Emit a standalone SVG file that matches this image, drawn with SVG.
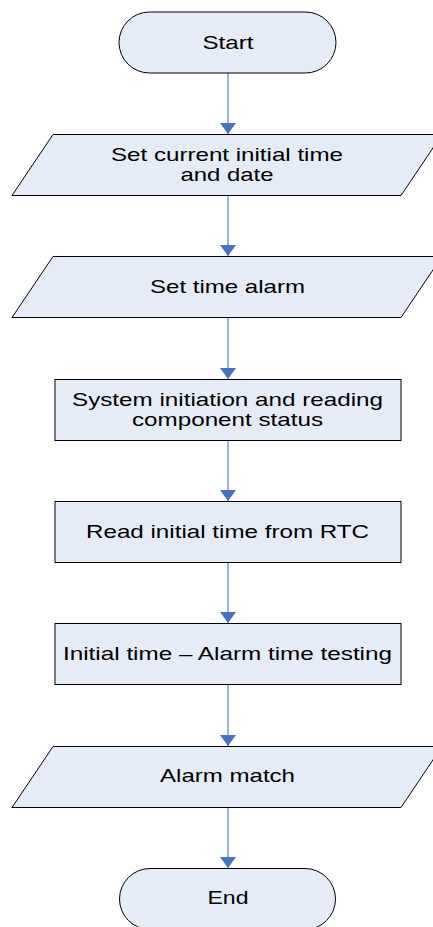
<svg xmlns="http://www.w3.org/2000/svg" width="433" height="927" viewBox="0 0 433 927">
<style>
.n{fill:#E6ECF7;stroke:#000;stroke-width:1}
.t{font-family:"Liberation Sans",Arial,sans-serif;font-size:18.5px;fill:#000;text-anchor:middle}
.c{stroke:#7A9AD6;stroke-width:1.5;fill:none}
</style>
<defs>
<marker id="ah" markerUnits="userSpaceOnUse" markerWidth="11" markerHeight="16" refX="11" refY="8" orient="auto" viewBox="0 0 11 16">
<path d="M0,0 L11,8 L0,16 Z" fill="#4472C4"/>
</marker>
</defs>
<rect width="433" height="927" fill="#fff"/>
<g id="connectors">
<line class="c" x1="228" y1="73" x2="228" y2="134" marker-end="url(#ah)"/>
<line class="c" x1="228" y1="195" x2="228" y2="256" marker-end="url(#ah)"/>
<line class="c" x1="228" y1="318" x2="228" y2="379" marker-end="url(#ah)"/>
<line class="c" x1="228" y1="440" x2="228" y2="501" marker-end="url(#ah)"/>
<line class="c" x1="228" y1="562" x2="228" y2="623" marker-end="url(#ah)"/>
<line class="c" x1="228" y1="685" x2="228" y2="746" marker-end="url(#ah)"/>
<line class="c" x1="228" y1="807" x2="228" y2="868" marker-end="url(#ah)"/>
</g>
<g id="start">
<rect class="n" x="119" y="12" width="217" height="61" rx="30.5" ry="30.5"/>
<text class="t" x="228" y="48.5" textLength="51" lengthAdjust="spacingAndGlyphs">Start</text>
</g>
<g id="set-current">
<polygon class="n" points="53,134.5 442,134.5 401,195.5 12,195.5"/>
<text class="t" x="227" y="161" textLength="232" lengthAdjust="spacingAndGlyphs">Set current initial time</text>
<text class="t" x="227" y="181" textLength="93" lengthAdjust="spacingAndGlyphs">and date</text>
</g>
<g id="set-alarm">
<polygon class="n" points="53,256.5 442,256.5 401,317.5 12,317.5"/>
<text class="t" x="227.5" y="293" textLength="155" lengthAdjust="spacingAndGlyphs">Set time alarm</text>
</g>
<g id="system-init">
<rect class="n" x="55" y="379.5" width="346" height="61"/>
<text class="t" x="227.5" y="405.5" textLength="311" lengthAdjust="spacingAndGlyphs">System initiation and reading</text>
<text class="t" x="227.5" y="425.5" textLength="191" lengthAdjust="spacingAndGlyphs">component status</text>
</g>
<g id="read-rtc">
<rect class="n" x="55" y="501.5" width="346" height="61"/>
<text class="t" x="227.5" y="538" textLength="283" lengthAdjust="spacingAndGlyphs">Read initial time from RTC</text>
</g>
<g id="testing">
<rect class="n" x="55" y="623.5" width="346" height="61"/>
<text class="t" x="227.5" y="659.5" textLength="329" lengthAdjust="spacingAndGlyphs">Initial time – Alarm time testing</text>
</g>
<g id="alarm-match">
<polygon class="n" points="53,746.5 442,746.5 401,807.5 12,807.5"/>
<text class="t" x="227.5" y="781.5" textLength="135" lengthAdjust="spacingAndGlyphs">Alarm match</text>
</g>
<g id="end">
<rect class="n" x="119.5" y="868.5" width="216" height="61" rx="30.5" ry="30.5"/>
<text class="t" x="228" y="904" textLength="41" lengthAdjust="spacingAndGlyphs">End</text>
</g>
</svg>
